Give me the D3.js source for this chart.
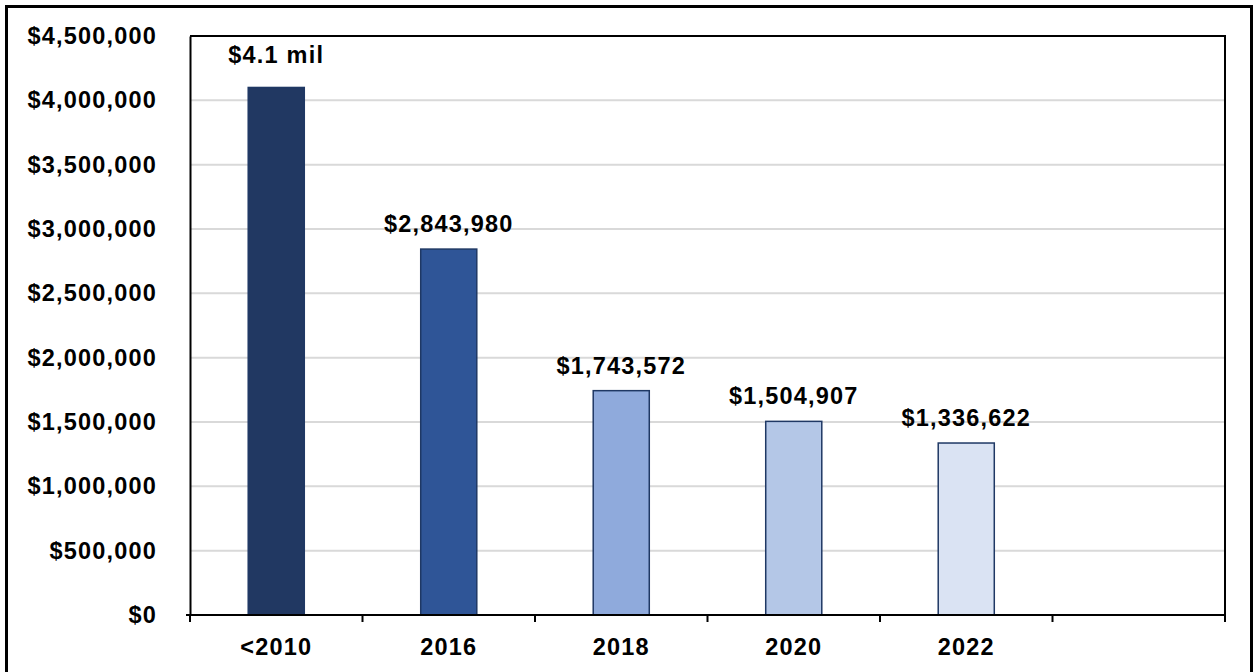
<html>
<head>
<script src="https://d3js.org/d3.v7.min.js"></script>
<style>
body { margin: 0; background: #fff; }
text { font-family: "Liberation Sans", Arial, sans-serif; font-weight: bold; fill: #000; }
</style>
</head>
<body>
<script>
// data
var categories = ["<2010", "2016", "2018", "2020", "2022", ""];
var values = [4100000, 2843980, 1743572, 1504907, 1336622];
var valueLabels = ["$4.1 mil", "$2,843,980", "$1,743,572", "$1,504,907", "$1,336,622"];
var barColors = ["#213862", "#2f5597", "#8faadc", "#b4c7e7", "#dae3f3"];
var yTicks = [0, 500000, 1000000, 1500000, 2000000, 2500000, 3000000, 3500000, 4000000, 4500000];

var W = 1258, H = 672;
var plotLeft = 190, plotRight = 1225, plotTop = 36, plotBottom = 615;

var svg = d3.select("body").append("svg")
    .attr("width", W)
    .attr("height", H);

svg.append("rect")
    .attr("x", 0).attr("y", 0)
    .attr("width", W).attr("height", H)
    .style("fill", "#fff");

// outer frame (runs off the bottom edge)
svg.append("rect")
    .attr("x", 6.5).attr("y", 6.5)
    .attr("width", 1245).attr("height", 700)
    .style("fill", "none")
    .style("stroke", "#000")
    .style("stroke-width", 3);

var x = d3.scaleBand().domain(categories)
    .range([plotLeft, plotRight])
    .paddingInner(0.675)
    .paddingOuter(0.3375);

var y = d3.scaleLinear().domain([0, 4500000]).range([plotBottom, plotTop]);

// gridlines
svg.append("g").selectAll("line")
    .data(yTicks.filter(d => d > 0))
    .enter().append("line")
    .attr("x1", plotLeft).attr("x2", plotRight)
    .attr("y1", d => y(d)).attr("y2", d => y(d))
    .style("stroke", "#d9d9d9")
    .style("stroke-width", 2);

// plot border top / right
svg.append("path")
    .attr("d", `M${plotLeft},${plotTop}H${plotRight}V${plotBottom}`)
    .style("fill", "none")
    .style("stroke", "#000")
    .style("stroke-width", 2);

// bars
svg.append("g").selectAll("rect")
    .data(values)
    .enter().append("rect")
    .attr("x", (d, i) => x(categories[i]))
    .attr("y", d => y(d))
    .attr("width", x.bandwidth())
    .attr("height", d => y(0) - y(d))
    .style("fill", (d, i) => barColors[i])
    .style("stroke", "#1f3864")
    .style("stroke-width", 1.5);

// value labels
svg.append("g").selectAll("text")
    .data(values)
    .enter().append("text")
    .attr("x", (d, i) => x(categories[i]) + x.bandwidth() / 2)
    .attr("y", (d, i) => y(d) - (i == 0 ? 24 : 17))
    .attr("text-anchor", "middle")
    .style("font-size", "23.5px")
    .style("letter-spacing", "1.2px")
    .text((d, i) => valueLabels[i]);

// y axis
var fmt = d3.format("$,");
var yAxis = svg.append("g")
    .attr("transform", `translate(${plotLeft},0)`)
    .call(d3.axisLeft(y).tickValues(yTicks).tickFormat(fmt).tickSize(0).tickPadding(33));
yAxis.select(".domain").style("stroke", "#000").style("stroke-width", 2);
yAxis.selectAll("text")
    .style("font-size", "23.5px")
    .style("letter-spacing", "1.2px")
    .style("font-family", "Liberation Sans, Arial, sans-serif")
    .style("font-weight", "bold");

// x axis with ticks at the band edges
var xAxis = svg.append("g").attr("transform", `translate(0,${plotBottom})`);
xAxis.append("line")
    .attr("x1", plotLeft - 4).attr("x2", plotRight)
    .style("stroke", "#000").style("stroke-width", 2);
var edges = categories.map((c, i) => plotLeft + i * x.step()).concat([plotRight]);
xAxis.selectAll(".tk").data(edges).enter().append("line")
    .attr("x1", d => d).attr("x2", d => d)
    .attr("y1", 0).attr("y2", 7)
    .style("stroke", "#000").style("stroke-width", 2);
xAxis.selectAll(".lbl").data(categories).enter().append("text")
    .attr("x", d => x(d) + x.bandwidth() / 2)
    .attr("y", 40)
    .attr("text-anchor", "middle")
    .style("font-size", "23.5px")
    .style("letter-spacing", "1.2px")
    .text(d => d);
</script>
</body>
</html>
